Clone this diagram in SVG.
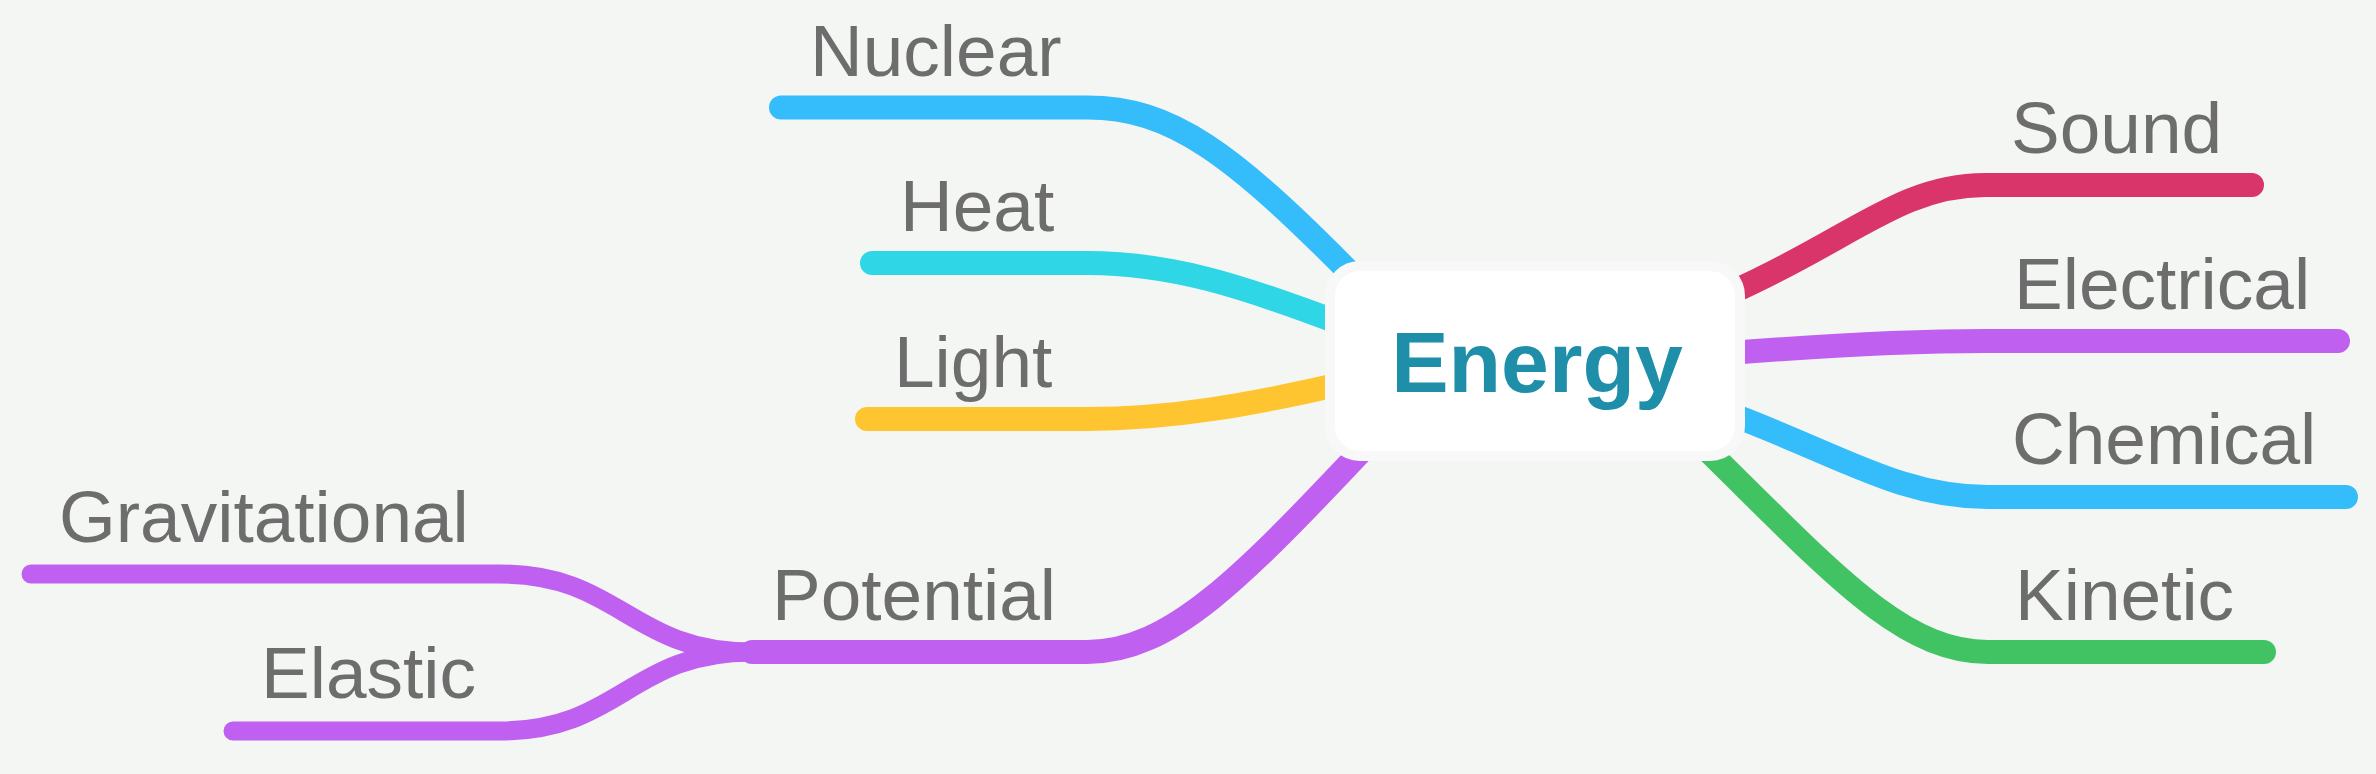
<svg xmlns="http://www.w3.org/2000/svg" width="2376" height="774" viewBox="0 0 2376 774">
<style>
.c{fill:none;stroke-linecap:round;stroke-linejoin:round;stroke-width:24}
.s{stroke-width:19}
.lbl{font-family:"Liberation Sans",Arial,Helvetica,sans-serif;font-size:73px;fill:#6d6d6d}
.root{font-family:"Liberation Sans",Arial,Helvetica,sans-serif;font-size:86px;font-weight:bold;fill:#1e8ea9}
</style>
<rect x="0" y="0" width="2376" height="774" fill="#f4f6f3"/>
<g id="connectors">
<path class="c" stroke="#35bcfb" d="M781 107.5 H1087 C1170 107.5 1230 150 1360 283"/>
<path class="c" stroke="#2fd6e6" d="M872 263 H1087 C1170 263 1240 285 1345 325"/>
<path class="c" stroke="#ffc530" d="M867 419 H1087 C1170 419 1250 405 1345 383"/>
<path class="c" stroke="#bf60f0" d="M752 652 H1087 C1170 652 1240 580 1370 442"/>
<path class="c s" stroke="#bf60f0" d="M31 574 H500 C620 574 630 652 752 652"/>
<path class="c s" stroke="#bf60f0" d="M233 731 H500 C620 731 630 652 752 652"/>
<path class="c" stroke="#d9356b" d="M2252 185 H1985 C1900 185 1850 240 1730 293"/>
<path class="c" stroke="#bf60f0" d="M2338 341 H1985 C1900 341 1820 346 1730 353"/>
<path class="c" stroke="#35bcfb" d="M2346 497 H1988 C1900 497 1840 455 1730 414"/>
<path class="c" stroke="#41c363" d="M2264 652 H1988 C1900 652 1830 570 1700 443"/>
</g>
<g id="node-energy">
<rect x="1330" y="266" width="410" height="190" rx="30" fill="#ffffff" stroke="#f8f8f8" stroke-width="10"/>
<text class="root" x="1537" y="392" text-anchor="middle">Energy</text>
</g>
<g id="node-nuclear"><text class="lbl" x="810" y="76">Nuclear</text></g>
<g id="node-heat"><text class="lbl" x="900" y="231">Heat</text></g>
<g id="node-light"><text class="lbl" x="894" y="387">Light</text></g>
<g id="node-potential"><text class="lbl" x="772" y="620">Potential</text></g>
<g id="node-gravitational"><text class="lbl" x="59" y="542">Gravitational</text></g>
<g id="node-elastic"><text class="lbl" x="261" y="698">Elastic</text></g>
<g id="node-sound"><text class="lbl" x="2011" y="153">Sound</text></g>
<g id="node-electrical"><text class="lbl" x="2014" y="309">Electrical</text></g>
<g id="node-chemical"><text class="lbl" x="2012" y="464">Chemical</text></g>
<g id="node-kinetic"><text class="lbl" x="2015" y="620">Kinetic</text></g>
</svg>
